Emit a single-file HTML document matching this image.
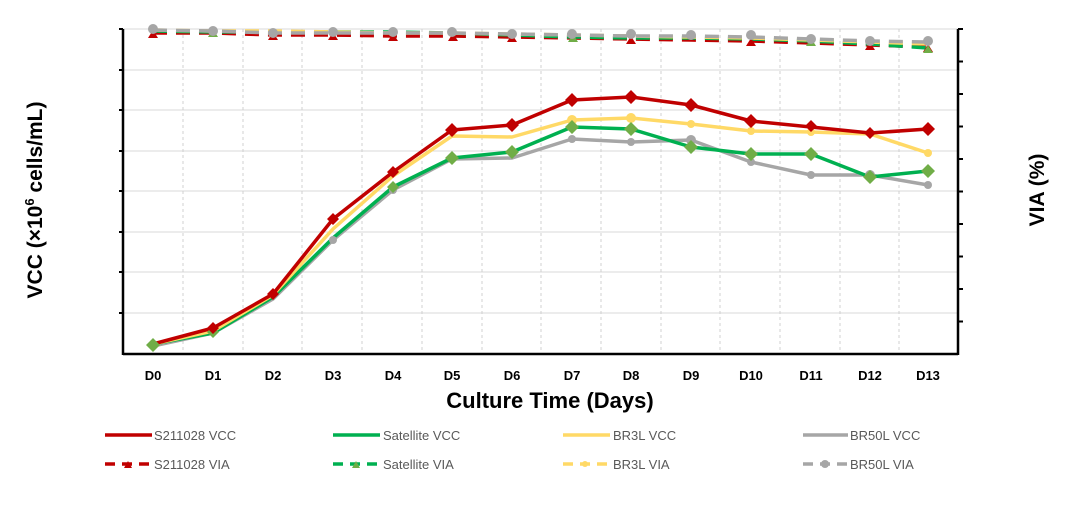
<!DOCTYPE html>
<html><head><meta charset="utf-8"><style>
html,body{margin:0;padding:0;background:#fff;width:1080px;height:506px;overflow:hidden}
svg{display:block}
text{font-family:"Liberation Sans",Arial,sans-serif}
</style></head><body>
<svg width="1080" height="506" viewBox="0 0 1080 506" xmlns="http://www.w3.org/2000/svg">
<g stroke="#d9d9d9" stroke-width="1">
<line x1="123" y1="29" x2="958" y2="29"/><line x1="123" y1="70" x2="958" y2="70"/><line x1="123" y1="110" x2="958" y2="110"/><line x1="123" y1="151" x2="958" y2="151"/><line x1="123" y1="191" x2="958" y2="191"/><line x1="123" y1="232" x2="958" y2="232"/><line x1="123" y1="272" x2="958" y2="272"/><line x1="123" y1="313" x2="958" y2="313"/>
</g>
<g stroke="#d0d0d0" stroke-width="1" stroke-dasharray="3,3">
<line x1="183" y1="29" x2="183" y2="354"/><line x1="243" y1="29" x2="243" y2="354"/><line x1="302" y1="29" x2="302" y2="354"/><line x1="362" y1="29" x2="362" y2="354"/><line x1="422" y1="29" x2="422" y2="354"/><line x1="482" y1="29" x2="482" y2="354"/><line x1="541" y1="29" x2="541" y2="354"/><line x1="601" y1="29" x2="601" y2="354"/><line x1="661" y1="29" x2="661" y2="354"/><line x1="720" y1="29" x2="720" y2="354"/><line x1="780" y1="29" x2="780" y2="354"/><line x1="840" y1="29" x2="840" y2="354"/><line x1="899" y1="29" x2="899" y2="354"/>
</g>
<g stroke="#000" stroke-width="2.5">
<line x1="123" y1="29" x2="123" y2="355"/><line x1="123" y1="354" x2="958" y2="354"/><line x1="958" y1="29" x2="958" y2="355"/>
</g>
<g stroke="#000" stroke-width="2">
<line x1="119" y1="29" x2="123" y2="29"/><line x1="119" y1="70" x2="123" y2="70"/><line x1="119" y1="110" x2="123" y2="110"/><line x1="119" y1="151" x2="123" y2="151"/><line x1="119" y1="191" x2="123" y2="191"/><line x1="119" y1="232" x2="123" y2="232"/><line x1="119" y1="272" x2="123" y2="272"/><line x1="119" y1="313" x2="123" y2="313"/>
<line x1="958" y1="29" x2="963" y2="29"/><line x1="958" y1="61.5" x2="963" y2="61.5"/><line x1="958" y1="94" x2="963" y2="94"/><line x1="958" y1="126.5" x2="963" y2="126.5"/><line x1="958" y1="159" x2="963" y2="159"/><line x1="958" y1="191.5" x2="963" y2="191.5"/><line x1="958" y1="224" x2="963" y2="224"/><line x1="958" y1="256.5" x2="963" y2="256.5"/><line x1="958" y1="289" x2="963" y2="289"/><line x1="958" y1="321.5" x2="963" y2="321.5"/>
</g>
<!-- VIA dashed -->
<g fill="none" stroke-width="3.5" stroke-dasharray="14,9">
<polyline stroke="#c00000" points="153,33 213,33 273,35 333,35 393,36 452,36 512,37 572,38 631,39 691,40 751,41 811,43 870,45 928,47"/>
<polyline stroke="#00b050" points="153,31 213,32 273,32 333,32 393,32 452,33 512,35 572,37 631,38 691,38 751,39 811,41 870,44 928,48"/>
<polyline stroke="#ffd966" points="153,30 213,31 273,31 333,32 393,33 452,33 512,34 572,35 631,36 691,37 751,38 811,40 870,42 928,44"/>
<polyline stroke="#a6a6a6" points="153,30 213,31 273,33 333,33 393,33 452,33 512,34 572,35 631,36 691,36 751,37 811,39 870,41 928,42"/>
</g>
<g fill="#c00000"><path d="M148,38l5,-8l5,8z M268,40l5,-8l5,8z M388,41l5,-8l5,8z M507,42l5,-8l5,8z M626,44l5,-8l5,8z M746,46l5,-8l5,8z M865,50l5,-8l5,8z M923,52l5,-8l5,8z M328,40l5,-8l5,8z M448,41l5,-8l5,8z"/></g>
<g fill="#70ad47"><path d="M208,37l5,-8l5,8z M568,42l5,-8l5,8z M806,46l5,-8l5,8z M923,53l5,-8l5,8z"/></g>
<g fill="#a6a6a6"><circle cx="153" cy="29" r="5"/><circle cx="213" cy="31" r="5"/><circle cx="273" cy="33" r="5"/><circle cx="333" cy="32" r="5"/><circle cx="393" cy="32" r="5"/><circle cx="452" cy="32" r="5"/><circle cx="512" cy="34" r="5"/><circle cx="572" cy="34" r="5"/><circle cx="631" cy="34" r="5"/><circle cx="691" cy="35" r="5"/><circle cx="751" cy="35" r="5"/><circle cx="811" cy="39" r="5"/><circle cx="870" cy="41" r="5"/><circle cx="928" cy="41" r="5"/></g>
<!-- VCC -->
<g fill="none" stroke-width="3.5" stroke-linejoin="round">
<polyline stroke="#a6a6a6" points="153,346 213,333 273,299 333,240 393,190 452,159 512,158 572,139 631,142 691,140 751,162 811,175 870,175 928,185"/>
<polyline stroke="#00b050" points="153,344 213,333 273,297 333,238 393,187 452,158 512,152 572,127 631,129 691,147 751,154 811,154 870,177 928,171"/>
<polyline stroke="#ffd966" points="153,344 213,331 273,295 333,229 393,176 452,136 512,137 572,120 631,118 691,124 751,131 811,132 870,134 928,153"/>
<polyline stroke="#c00000" points="153,344 213,328 273,294 333,219 393,172 452,130 512,125 572,100 631,97 691,105 751,121 811,127 870,133 928,129"/>
</g>
<g fill="#a6a6a6"><circle cx="393" cy="190" r="4"/><circle cx="572" cy="139" r="4"/><circle cx="631" cy="142" r="4"/><circle cx="691" cy="140" r="5"/><circle cx="751" cy="162" r="4"/><circle cx="811" cy="175" r="4"/><circle cx="870" cy="175" r="5"/><circle cx="928" cy="185" r="4"/><circle cx="333" cy="240" r="4"/></g>
<g fill="#ffd966"><circle cx="572" cy="120" r="5"/><circle cx="631" cy="118" r="5"/><circle cx="691" cy="124" r="4"/><circle cx="751" cy="131" r="4"/><circle cx="811" cy="132" r="4"/><circle cx="928" cy="153" r="4"/></g>
<g fill="#70ad47"><path d="M153,338l7,7l-7,7l-7,-7z M213,326l6,6l-6,6l-6,-6z M393,181l6,6l-6,6l-6,-6z M452,151l7,7l-7,7l-7,-7z M512,145l7,7l-7,7l-7,-7z M572,120l7,7l-7,7l-7,-7z M631,122l7,7l-7,7l-7,-7z M691,140l7,7l-7,7l-7,-7z M751,147l7,7l-7,7l-7,-7z M811,147l7,7l-7,7l-7,-7z M870,170l7,7l-7,7l-7,-7z M928,164l7,7l-7,7l-7,-7z"/></g>
<g fill="#c00000"><path d="M213,322l6,6l-6,6l-6,-6z M273,288l6,6l-6,6l-6,-6z M333,213l6,6l-6,6l-6,-6z M393,166l6,6l-6,6l-6,-6z M452,123l7,7l-7,7l-7,-7z M512,118l7,7l-7,7l-7,-7z M572,93l7,7l-7,7l-7,-7z M631,90l7,7l-7,7l-7,-7z M691,98l7,7l-7,7l-7,-7z M751,114l7,7l-7,7l-7,-7z M811,120l6,6l-6,6l-6,-6z M870,127l6,6l-6,6l-6,-6z M928,122l7,7l-7,7l-7,-7z"/></g>
<g font-size="13" font-weight="bold" text-anchor="middle" fill="#000">
<text x="153" y="380">D0</text><text x="213" y="380">D1</text><text x="273" y="380">D2</text><text x="333" y="380">D3</text><text x="393" y="380">D4</text><text x="452" y="380">D5</text><text x="512" y="380">D6</text><text x="572" y="380">D7</text><text x="631" y="380">D8</text><text x="691" y="380">D9</text><text x="751" y="380">D10</text><text x="811" y="380">D11</text><text x="870" y="380">D12</text><text x="928" y="380">D13</text>
</g>
<text x="550" y="408" font-size="22" font-weight="bold" text-anchor="middle">Culture Time (Days)</text>
<text transform="translate(42,200) rotate(-90)" font-size="21" font-weight="bold" text-anchor="middle">VCC (×10<tspan font-size="13" dy="-8">6</tspan><tspan dy="8"> cells/mL)</tspan></text>
<text transform="translate(1044,190) rotate(-90)" font-size="21" font-weight="bold" text-anchor="middle">VIA (%)</text>
<!-- legend -->
<g stroke-width="3.5">
<line x1="105" y1="435" x2="152" y2="435" stroke="#c00000"/>
<line x1="333" y1="435" x2="380" y2="435" stroke="#00b050"/>
<line x1="563" y1="435" x2="610" y2="435" stroke="#ffd966"/>
<line x1="803" y1="435" x2="848" y2="435" stroke="#a6a6a6"/>
<g stroke-dasharray="10,7"><line x1="105" y1="464" x2="152" y2="464" stroke="#c00000"/><line x1="333" y1="464" x2="380" y2="464" stroke="#00b050"/><line x1="563" y1="464" x2="610" y2="464" stroke="#ffd966"/><line x1="803" y1="464" x2="848" y2="464" stroke="#a6a6a6"/></g>
</g>
<path d="M124,468l4,-7l4,7z" fill="#c00000"/><path d="M352,468l4,-7l4,7z" fill="#70ad47"/><circle cx="585" cy="464" r="3" fill="#ffd966"/><circle cx="825" cy="464" r="4" fill="#a6a6a6"/>
<g font-size="13" fill="#595959">
<text x="154" y="440">S211028 VCC</text><text x="383" y="440">Satellite VCC</text><text x="613" y="440">BR3L VCC</text><text x="850" y="440">BR50L VCC</text>
<text x="154" y="469">S211028 VIA</text><text x="383" y="469">Satellite  VIA</text><text x="613" y="469">BR3L VIA</text><text x="850" y="469">BR50L VIA</text>
</g>
</svg>
</body></html>
